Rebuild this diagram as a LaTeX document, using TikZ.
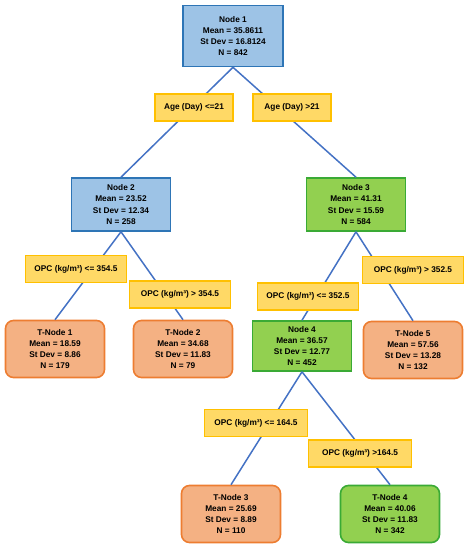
\documentclass[tikz,border=0pt]{standalone}
\usepackage{fontspec}
\setmainfont{Liberation Sans}
\definecolor{NodeClr}{HTML}{9DC3E6}
\definecolor{NodeLineClr}{HTML}{2E75B6}
\definecolor{LeafClr}{HTML}{F4B183}
\definecolor{LeafLineClr}{HTML}{ED7D31}
\definecolor{GreenClr}{HTML}{92D050}
\definecolor{GreenLineClr}{HTML}{3AAA35}
\definecolor{SplitClr}{HTML}{FFD966}
\definecolor{SplitLineClr}{HTML}{FFC000}
\definecolor{EdgeClr}{HTML}{4472C4}

\begin{document}
\begin{tikzpicture}[x=1pt,y=-1pt,
  txt/.style={align=center,inner sep=0pt,font=\bfseries\fontsize{8.3}{11.2}\selectfont},
  node box/.style={txt,draw=NodeLineClr,fill=NodeClr,line width=1.6pt,minimum width=99pt,minimum height=53pt},
  green box/.style={node box,draw=GreenLineClr,fill=GreenClr},
  leaf box/.style={txt,draw=LeafLineClr,fill=LeafClr,line width=1.6pt,rounded corners=8pt,minimum width=99pt,minimum height=57pt},
  green leaf/.style={leaf box,draw=GreenLineClr,fill=GreenClr},
  split/.style={txt,draw=SplitLineClr,fill=SplitClr,line width=1.6pt,minimum width=101pt,minimum height=27pt},
  edge/.style={draw=EdgeClr,line width=1.5pt}]
\useasboundingbox (0,0) rectangle (468,550);

% tree nodes
\node[node box,minimum width=100pt,minimum height=61pt] (N1) at (233,36) {Node 1\\Mean = 35.8611\\St Dev = 16.8124\\N = 842};
\node[node box] (N2) at (121,204.5) {Node 2\\Mean = 23.52\\St Dev = 12.34\\N = 258};
\node[green box] (N3) at (356,204.5) {Node 3\\Mean = 41.31\\St Dev = 15.59\\N = 584};
\node[green box,minimum height=50pt] (N4) at (302,346) {Node 4\\Mean = 36.57\\St Dev = 12.77\\N = 452};

% terminal nodes
\node[leaf box] (T1) at (55,349) {T-Node 1\\Mean = 18.59\\St Dev = 8.86\\N = 179};
\node[leaf box] (T2) at (183,349) {T-Node 2\\Mean = 34.68\\St Dev = 11.83\\N = 79};
\node[leaf box] (T5) at (413,350) {T-Node 5\\Mean = 57.56\\St Dev = 13.28\\N = 132};
\node[leaf box] (T3) at (231,514) {T-Node 3\\Mean = 25.69\\St Dev = 8.89\\N = 110};
\node[green leaf] (T4) at (390,514) {T-Node 4\\Mean = 40.06\\St Dev = 11.83\\N = 342};

% branches
\draw[edge] (N1.south) -- (N2.north);
\draw[edge] (N1.south) -- (N3.north);
\draw[edge] (N2.south) -- (T1.north);
\draw[edge] (N2.south) -- (T2.north);
\draw[edge] (N3.south) -- (N4.north);
\draw[edge] (N3.south) -- (T5.north);
\draw[edge] (N4.south) -- (T3.north);
\draw[edge] (N4.south) -- (T4.north);

% split conditions
\node[split,minimum width=78pt] (S1) at (194,107.5) {Age (Day) <=21};
\node[split,minimum width=78pt] (S2) at (292,107.5) {Age (Day) >21};
\node[split] (S3) at (76,269) {OPC (kg/m³) <= 354.5};
\node[split] (S4) at (180,294.5) {OPC (kg/m³) > 354.5};
\node[split] (S5) at (308,296.5) {OPC (kg/m³) <= 352.5};
\node[split] (S6) at (413,270) {OPC (kg/m³) > 352.5};
\node[split,minimum width=103pt] (S7) at (256,423) {OPC (kg/m³) <= 164.5};
\node[split,minimum width=103pt] (S8) at (360,453.5) {OPC (kg/m³) >164.5};

\end{tikzpicture}
\end{document}
